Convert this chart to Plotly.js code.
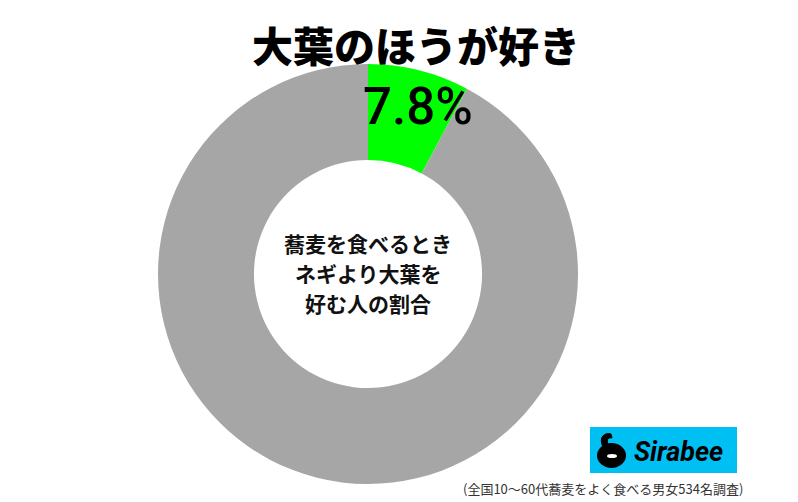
<!DOCTYPE html>
<html>
<head>
<meta charset="utf-8">
<script src="https://cdn.plot.ly/plotly-3.0.1.min.js"></script>
<style>html,body{margin:0;padding:0;background:#fff;}#chart{width:798px;height:502px;}</style>
</head>
<body>
<div id="chart"></div>
<script>
const labels = ["大葉のほうが好き", "その他"];
const values = [7.8, 92.2];
const colors = ["#00FF00", "#A6A6A6"];
const titleText = "大葉のほうが好き";
const valueLabel = "7.8%";
const centerLines = ["蕎麦を食べるとき", "ネギより大葉を", "好む人の割合"];
const footnote = "(全国10～60代蕎麦をよく食べる男女534名調査)";
const brand = "Sirabee";

const W = 798, H = 502;
const px = x => x / W;
const py = y => 1 - y / H;
const JP = "Noto Sans CJK JP, Noto Sans, sans-serif";

const annotations = [
  {text: titleText, x: px(416), y: py(44), xref: "paper", yref: "paper", showarrow: false,
   xanchor: "center", yanchor: "middle", font: {family: JP, size: 41, color: "#000", weight: 900}},
  {text: valueLabel, x: px(418), y: py(106), xref: "paper", yref: "paper", showarrow: false,
   xanchor: "center", yanchor: "middle",
   font: {family: "Roboto, Liberation Sans, sans-serif", size: 51, color: "#000", weight: 500}},
  {text: footnote, x: px(745), y: py(488), xref: "paper", yref: "paper", showarrow: false,
   xanchor: "right", yanchor: "middle", font: {family: JP, size: 13, color: "#333"}},
  {text: "<i><b>" + brand + "</b></i>", x: px(678), y: py(452), xref: "paper", yref: "paper", showarrow: false,
   xanchor: "center", yanchor: "middle", font: {family: "Roboto, Liberation Sans, sans-serif", size: 27, color: "#000"}}
];
centerLines.forEach((t, i) => {
  annotations.push({text: "<b>" + t + "</b>", x: px(368), y: py(243 + i * 30), xref: "paper", yref: "paper",
    showarrow: false, xanchor: "center", yanchor: "middle", font: {family: JP, size: 21, color: "#111"}});
});

const shapes = [
  {type: "rect", xref: "paper", yref: "paper", x0: px(590), x1: px(737), y0: py(427), y1: py(473),
   fillcolor: "#00BFF3", line: {width: 0}},
  {type: "circle", xref: "paper", yref: "paper", x0: px(597), x1: px(626), y0: py(443), y1: py(468),
   fillcolor: "#000", line: {width: 0}},
  {type: "path", xref: "paper", yref: "paper",
   path: "M " + px(603) + " " + py(447) + " C " + px(598) + " " + py(437) + " " + px(605) + " " + py(432) + " " + px(611) + " " + py(434)
     + " L " + px(612) + " " + py(438) + " C " + px(607) + " " + py(437) + " " + px(606) + " " + py(441) + " " + px(609) + " " + py(446) + " Z",
   fillcolor: "#000", line: {color: "#000", width: 1}},
  {type: "circle", xref: "paper", yref: "paper", x0: px(607), x1: px(617), y0: py(454), y1: py(458),
   fillcolor: "#fff", line: {width: 0}}
];

const data = [{
  type: "pie",
  labels: labels,
  values: values,
  marker: {colors: colors, line: {width: 0}},
  hole: 0.543,
  sort: false,
  direction: "clockwise",
  rotation: 0,
  textinfo: "none",
  hoverinfo: "none",
  showlegend: false,
  domain: {x: [158 / W, 578 / W], y: [18 / H, 438 / H]}
}];

const layout = {
  width: W, height: H,
  margin: {l: 0, r: 0, t: 0, b: 0},
  paper_bgcolor: "#fff",
  plot_bgcolor: "#fff",
  showlegend: false,
  annotations: annotations,
  shapes: shapes
};

Plotly.newPlot("chart", data, layout, {displayModeBar: false, staticPlot: true});
</script>
</body>
</html>
